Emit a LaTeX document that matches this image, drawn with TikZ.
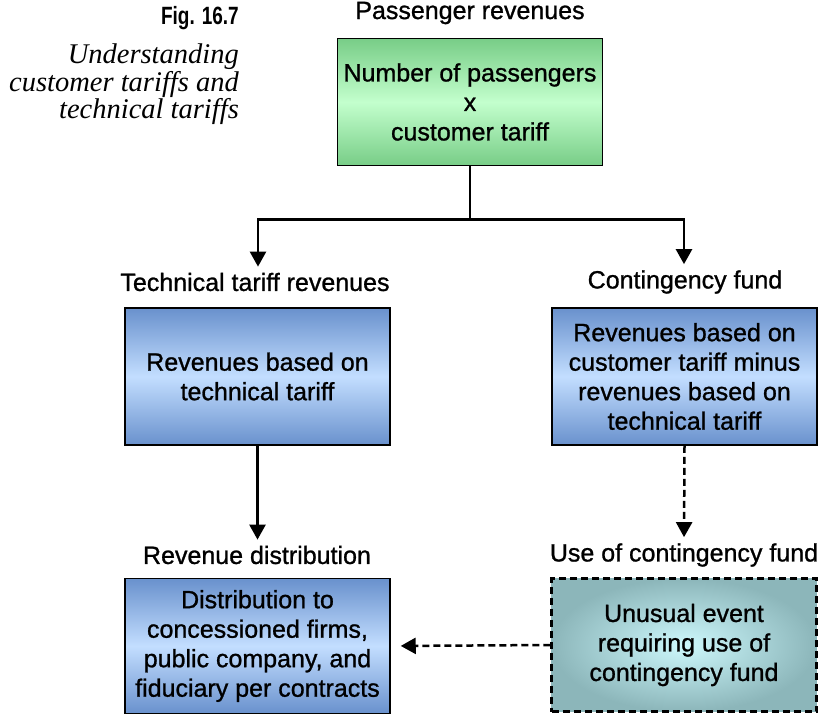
\documentclass[tikz,border=0pt]{standalone}
\usepackage{fontspec}
\setmainfont[FakeBold=1]{Liberation Sans}
\newfontfamily\capfont[FakeStretch=0.76]{Liberation Sans}
\newfontfamily\capserif{Liberation Serif}
\usetikzlibrary{arrows.meta}

\definecolor{greentop}{RGB}{120,205,135}
\definecolor{greenmid}{RGB}{195,255,205}
\definecolor{bluetop}{RGB}{105,145,205}
\definecolor{bluemid}{RGB}{195,222,255}
\definecolor{tealout}{RGB}{140,182,186}
\definecolor{tealin}{RGB}{205,248,252}

\tikzset{
  box/.style={draw=black, line width=1.5pt, minimum width=265pt, align=center,
    font=\fontsize{25}{29.5}\selectfont, inner sep=0pt},
  greenbox/.style={box, minimum height=127pt, top color=greentop, bottom color=greentop, middle color=greenmid},
  bluebox/.style={box, minimum height=137pt, top color=bluetop, bottom color=bluetop, middle color=bluemid},
  tealbox/.style={box, dash pattern=on 7pt off 4pt, line width=2.5pt, minimum height=133pt, inner color=tealin, outer color=tealout},
  lbl/.style={font=\fontsize{25}{28}\selectfont, inner sep=0pt},
  link/.style={line width=2.5pt},
  dlink/.style={link, dash pattern=on 7pt off 4pt},
}

\begin{document}
\begin{tikzpicture}[x=1pt, y=-1pt, >={Triangle[width=16pt,length=15pt]}]
  \useasboundingbox (0,0) rectangle (819,715);

  % Caption
  \node[anchor=east, font=\capfont\bfseries\fontsize{25}{28}\selectfont, inner sep=0pt] (fig) at (239,18) {Fig. 16.7};
  \node[anchor=north east, align=right, font=\capserif\itshape\fontsize{28.5}{27.5}\selectfont, inner sep=0pt] (title) at (239,44)
    {Understanding\\customer tariffs and\\technical tariffs};

  % Top
  \node[lbl] (paxlbl) at (470,13) {Passenger revenues};
  \node[greenbox] (pax) at (470,102) {Number of passengers\\x\\customer tariff};

  % Middle row
  \node[lbl] (techlbl) at (255,282) {Technical tariff revenues};
  \node[bluebox] (tech) at (257.5,376.5) {Revenues based on\\technical tariff};
  \node[lbl] (contlbl) at (685,282) {Contingency fund};
  \node[bluebox] (cont) at (684.5,376.5) {Revenues based on\\customer tariff minus\\revenues based on\\technical tariff};

  % Bottom row
  \node[lbl] (distlbl) at (257,555) {Revenue distribution};
  \node[bluebox, minimum height=135pt] (dist) at (257.5,646) {Distribution to\\concessioned firms,\\public company, and\\fiduciary per contracts};
  \node[lbl] (uselbl) at (684,555) {Use of contingency fund};
  \node[tealbox] (use) at (684,645) {Unusual event\\requiring use of\\contingency fund};

  % Connectors
  \draw[link] (pax.south) -- ++(0,53) coordinate (split);
  \draw[link, ->, shorten >=6pt] (split) -| ([xshift=3pt]techlbl.north);
  \draw[link, ->, shorten >=6pt] (split) -| ([xshift=-1pt]contlbl.north);
  \draw[link, ->, shorten >=6pt] (tech.south) -- ([xshift=0.5pt]distlbl.north);
  \draw[dlink, ->, shorten >=6pt] (cont.south) -- (uselbl.north);
  \draw[dlink, ->, shorten >=10pt] (use.west) -- (dist.east);
\end{tikzpicture}
\end{document}
